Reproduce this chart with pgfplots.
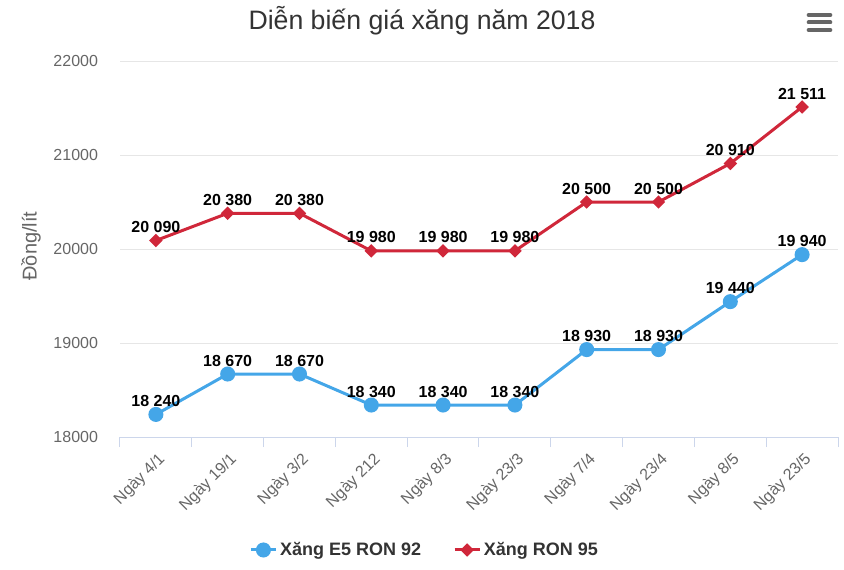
\documentclass[border=0pt]{standalone}
\usepackage{pgfplots}
\pgfplotsset{compat=1.18}
\usepackage{fontspec}
\setmainfont{Liberation Sans}

\definecolor{e5blue}{HTML}{44A6E8}
\definecolor{ronred}{HTML}{D0273A}
\definecolor{gridgray}{HTML}{E6E6E6}
\definecolor{axisblue}{HTML}{CCD6EB}
\definecolor{txtgray}{HTML}{666666}
\definecolor{titlegray}{HTML}{333333}

\begin{document}
\begin{tikzpicture}
\useasboundingbox (0,0) rectangle (633pt,426.75pt);
\begin{axis}[
    at={(90pt,99pt)}, anchor=south west,
    scale only axis, width=538.5pt, height=282pt,
    clip=false,
    xmin=-0.5, xmax=9.5,
    ymin=18000, ymax=22000,
    xtick={0,...,9},
    xticklabels={Ngày 4/1, Ngày 19/1, Ngày 3/2, Ngày 212, Ngày 8/3,
                 Ngày 23/3, Ngày 7/4, Ngày 23/4, Ngày 8/5, Ngày 23/5},
    minor xtick={-0.5,0.5,...,9.5},
    ytick={18000,19000,...,22000},
    scaled y ticks=false,
    major tick length=0pt,
    minor tick length=7.5pt,
    tick align=outside,
    minor tick style={draw=axisblue, line width=0.75pt},
    axis x line*=bottom, axis y line*=left,
    x axis line style={draw=axisblue, line width=0.75pt},
    y axis line style={draw=none},
    ymajorgrids=true,
    grid style={draw=gridgray, line width=0.75pt},
    /pgf/number format/assume math mode=true,
    /pgf/number format/1000 sep={\ },
    yticklabel style={/pgf/number format/1000 sep={}, font=\fontsize{12}{14}\selectfont,
        text=txtgray, xshift=-13pt},
    xticklabel style={rotate=45, anchor=east, font=\fontsize{12}{14}\selectfont,
        text=txtgray, yshift=-14pt, xshift=-3.5pt},
    ylabel={Đồng/lít},
    ylabel style={at={(axis description cs:-0.124,0.508)}, anchor=center, rotate=0,
        font=\fontsize{15}{18}\selectfont, text=txtgray},
    title={Diễn biến giá xăng năm 2018},
    title style={at={(axis description cs:0.4206,1.087)}, anchor=center, yshift=0pt,
        font=\fontsize{20}{24}\selectfont, text=titlegray},
    nodes near coords,
    nodes near coords style={anchor=center, yshift=10.1pt, text=black,
        font=\bfseries\fontsize{12}{14}\selectfont},
    legend columns=2,
    legend style={at={(axis description cs:0.4248,-0.3005)}, anchor=center,
        draw=none, fill=none, text=titlegray,
        font=\bfseries\fontsize{13.5}{16}\selectfont,
        /tikz/every even column/.append style={column sep=22pt}},
    legend image code/.code={
        \draw[mark repeat=2,mark phase=2,#1]
            plot coordinates {(0pt,0pt) (9.4pt,0pt) (18.8pt,0pt)};},
]

\addplot[e5blue, line width=2.25pt, mark=*, mark size=4.5pt,
    mark options={fill=e5blue, draw=none}]
    coordinates {
(0,18240)
(1,18670)
(2,18670)
(3,18340)
(4,18340)
(5,18340)
(6,18930)
(7,18930)
(8,19440)
(9,19940)
    };
\addlegendentry{Xăng E5 RON 92}

\addplot[ronred, line width=2.25pt, mark=square*, mark size=2.45pt,
    mark options={fill=ronred, draw=none, rotate=45}]
    coordinates {
(0,20090)
(1,20380)
(2,20380)
(3,19980)
(4,19980)
(5,19980)
(6,20500)
(7,20500)
(8,20910)
(9,21511)
    };
\addlegendentry{Xăng RON 95}

\end{axis}
% menu icon, top right
\foreach \yy in {415.5,409.9,404.25}
    \draw[txtgray, line width=3pt, line cap=round] (606.5pt,\yy pt) -- (622.75pt,\yy pt);
\end{tikzpicture}
\end{document}
